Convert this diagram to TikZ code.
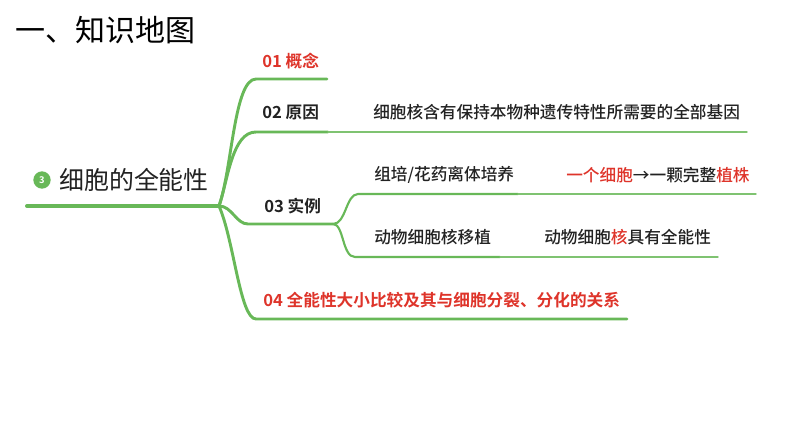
\documentclass[tikz,border=0pt]{standalone}
\usepackage{fontspec}
\setmainfont{Noto Sans CJK SC}[BoldFont={Noto Sans CJK SC Bold}]
\newfontfamily\midfont{Noto Sans CJK SC Medium}
\usepackage{xcolor}
\usetikzlibrary{positioning}

\definecolor{mapgreen}{RGB}{104,184,88}
\definecolor{mapred}{RGB}{222,52,42}
\definecolor{maptext}{RGB}{34,34,34}

\begin{document}
\begin{tikzpicture}[x=0.75pt,y=-0.75pt,line cap=round]
 	\tikzstyle{every node}=[inner sep=0pt, anchor=west, text=maptext]
 	\tikzstyle{rootline}=[draw=mapgreen, line width=3pt]
 	\tikzstyle{branch}=[draw=mapgreen, line width=2.2pt]
 	\tikzstyle{twig}=[draw=mapgreen, line width=1.6pt]
 	\tikzstyle{leafline}=[draw=mapgreen!85, line width=1.1pt]
 	\tikzstyle{leaf}=[font=\midfont\fontsize{12.5}{14}\selectfont]
 	\tikzstyle{head}=[font=\fontsize{12.5}{14}\selectfont\bfseries]
 	\useasboundingbox (0,0) rectangle (794,447);
 	% title and root
 	\node[font=\fontsize{22.5}{26}\selectfont, text=black] (title) at (15,30) {一、知识地图};
 	\node[circle, fill=mapgreen, minimum size=13pt, anchor=center, text=white,
 	      font=\fontsize{7}{8}\selectfont\bfseries] (num) at (42,180) {3};
 	\node[font=\fontsize{18.7}{22}\selectfont] (root) at (59,180) {细胞的全能性};
 	% branch labels
 	\node[head, text=mapred] (concept) at (262,61) {01 概念};
 	\node[head] (reason) at (262,112) {02 原因};
 	\node[leaf] (reasontxt) at (373,112) {细胞核含有保持本物种遗传特性所需要的全部基因};
 	\node[head] (example) at (264,206) {03 实例};
 	\node[leaf] (culture) at (374,175) {组培/花药离体培养};
 	\node[leaf] (culturetxt) at (566,175) {\textcolor{mapred}{一个细胞}→一颗完整\textcolor{mapred}{植株}};
 	\node[leaf] (transfer) at (374,237) {动物细胞核移植};
 	\node[leaf] (transfertxt) at (544,237) {动物细胞\textcolor{mapred}{核}具有全能性};
 	\node[head, text=mapred] (relation) at (263,300) {04 全能性大小比较及其与细胞分裂、分化的关系};
 	% line ends
 	\coordinate (R0) at (27,206);
 	\coordinate (R) at (219,206);
 	\coordinate (A0) at (256,79);
 	\coordinate (A1) at (327,79);
 	\coordinate (B0) at (256,132);
 	\coordinate (B1) at (328,132);
 	\coordinate (B2) at (747,132);
 	\coordinate (C0) at (248,224);
 	\coordinate (C) at (333,224);
 	\coordinate (D0) at (256,319);
 	\coordinate (D1) at (627,319);
 	\coordinate (E0) at (358,194);
 	\coordinate (E1) at (518,194);
 	\coordinate (E2) at (756,194);
 	\coordinate (F0) at (355,257);
 	\coordinate (F1) at (500,257);
 	\coordinate (F2) at (718,257);
 	% connectors
 	\draw[rootline] (R0) -- (R);
 	\draw[branch] (R) .. controls (232,170) and (234,79) .. (A0) -- (A1);
 	\draw[branch] (R) .. controls (228,180) and (232,132) .. (B0) -- (B1);
 	\draw[branch] (R) .. controls (232,206) and (236,224) .. (C0) -- (C);
 	\draw[branch] (R) .. controls (234,240) and (240,319) .. (D0) -- (D1);
 	\draw[twig] (C) .. controls (346,224) and (346,194) .. (E0) -- (E1);
 	\draw[twig] (C) .. controls (344,224) and (342,257) .. (F0) -- (F1);
 	\path[leafline]
 	(B1) edge (B2)
 	(E1) edge (E2)
 	(F1) edge (F2);
\end{tikzpicture}
\end{document}
